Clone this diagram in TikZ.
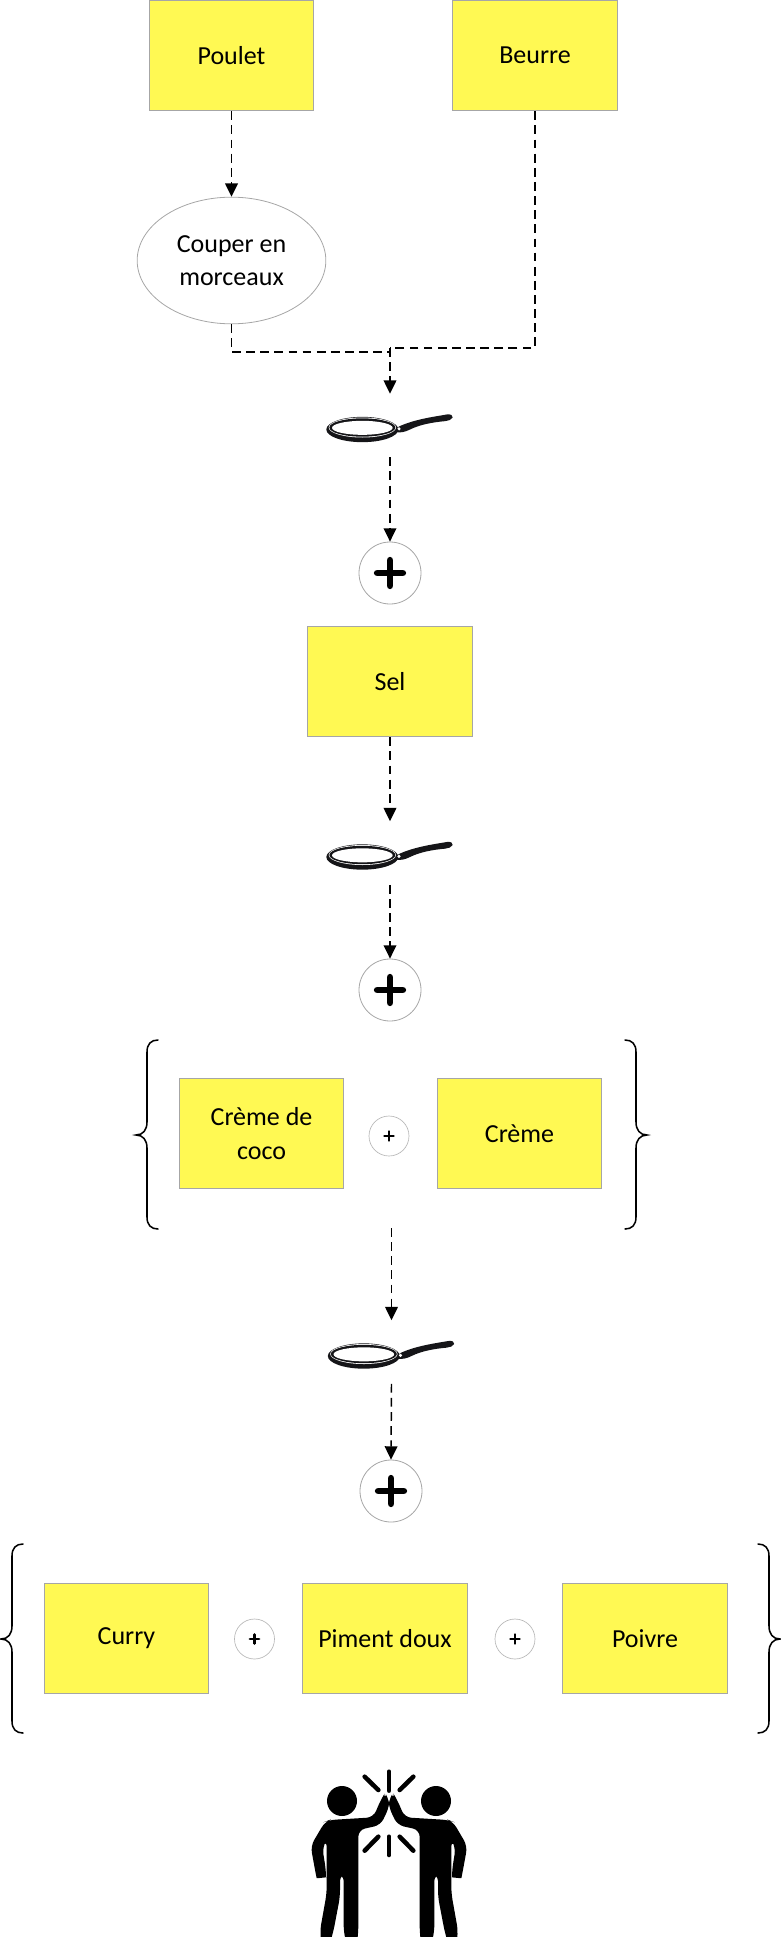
\documentclass[tikz,border=0pt]{standalone}
\usepackage{fontspec}
\setmainfont{Carlito}
\usetikzlibrary{arrows.meta,calc,shapes.geometric}
\definecolor{boxyellow}{HTML}{FFF953}
\definecolor{edgegray}{HTML}{A6A6A6}
\definecolor{pandark}{HTML}{151518}
\tikzset{
  ingredient/.style={rectangle,draw=edgegray,line width=0.75pt,fill=boxyellow,minimum width=123.5pt,minimum height=83pt,inner sep=0pt,align=center,font=\fontsize{19.5}{25}\selectfont,text=black},
  action/.style={ellipse,draw=edgegray,line width=0.6pt,fill=white,minimum width=141.5pt,minimum height=95pt,inner sep=0pt,align=center,font=\fontsize{19.5}{25}\selectfont},
  bigplus/.style={circle,draw=edgegray,line width=0.6pt,fill=white,minimum size=46.5pt,inner sep=0pt},
  smallplus/.style={circle,draw=edgegray!80,line width=0.5pt,fill=white,minimum size=30pt,inner sep=0pt},
  panslot/.style={rectangle,minimum width=94.5pt,minimum height=47.25pt,inner sep=0pt},
  flow/.style={line width=1.1pt,dash pattern=on 6.6pt off 4pt,-{Triangle[length=10pt,width=9.5pt]}},
  flowplain/.style={line width=1.1pt,dash pattern=on 6.6pt off 4pt},
  bracket/.style={line width=1.15pt,line cap=round},
  spark/.style={line width=3.4pt,line cap=round},
  pan/.pic={
    \begin{scope}[x=0.25pt,y=-0.25pt,shift={(-270,-258)}]
      \fill[pandark] (295,262) .. controls (340,240) and (400,232) .. (440,225)
        .. controls (452,223) and (460,228) .. (458,234)
        .. controls (455,241) and (445,244) .. (435,245)
        .. controls (400,248) and (360,255) .. (330,270)
        .. controls (315,278) and (300,280) .. (290,278) -- cycle;
      \fill[pandark] (187,270) ellipse [x radius=108,y radius=38];
      \fill[white] (187,264) ellipse [x radius=101,y radius=30];
      \fill[pandark] (187,264) ellipse [x radius=99,y radius=27.5];
      \fill[white] (187,265) ellipse [x radius=91,y radius=21];
      \fill[white] (297,268) circle [radius=5];
    \end{scope}
  },
  plusbig/.pic={
    \draw[line width=5.2pt,line cap=round] (-9.5pt,0) -- (9.5pt,0) (0,-9.5pt) -- (0,9.5pt);
  },
  plussmall/.pic={
    \draw[line width=2pt,line cap=round] (-3.4pt,0) -- (3.4pt,0) (0,-3.4pt) -- (0,3.4pt);
  },
}
\begin{document}
\begin{tikzpicture}[x=0.75pt,y=-0.75pt]
\useasboundingbox (0,0) rectangle (781,1937);
\node[ingredient] (poulet) at (231.5,55.5) {Poulet};
\node[ingredient] (beurre) at (535,55.5) {Beurre};
\node[action] (couper) at (231.5,260.5) {Couper en\\morceaux};
\node[panslot] (panA) at (390,425.5) {};
\pic at (panA.center) {pan};
\node[bigplus] (plusA) at (390,573) {};
\pic at (plusA.center) {plusbig};
\node[ingredient] (sel) at (390,681.5) {Sel};
\node[panslot] (panB) at (390,853) {};
\pic at (panB.center) {pan};
\node[bigplus] (plusB) at (390,990) {};
\pic at (plusB.center) {plusbig};
\node[ingredient] (cocco) at (261.5,1133.5) {Crème de\\coco};
\node[smallplus] (plusC) at (389,1136) {};
\pic at (plusC.center) {plussmall};
\node[ingredient] (creme) at (519.5,1133.5) {Crème};
\node[panslot] (panC) at (391.5,1352) {};
\pic at (panC.center) {pan};
\node[bigplus] (plusD) at (391,1491) {};
\pic at (plusD.center) {plusbig};
\node[ingredient] (curry) at (126.5,1638.5) {Curry};
\node[smallplus] (plusE) at (254.5,1639) {};
\pic at (plusE.center) {plussmall};
\node[ingredient] (piment) at (385,1638.5) {Piment doux};
\node[smallplus] (plusF) at (515,1639) {};
\pic at (plusF.center) {plussmall};
\node[ingredient] (poivre) at (645,1638.5) {Poivre};
\coordinate (meetA) at (390,352);
\coordinate (meetB) at (390,348);
\coordinate (groupA) at (391.5,1228);
\draw[flow] (poulet.south) -- (couper.north);
\draw[flowplain] (couper.south) |- (meetA);
\draw[flowplain] (beurre.south) |- (meetB);
\draw[flow] (meetB) -- (panA.north);
\draw[flow] (panA.south) -- (plusA.north);
\draw[flow] (sel.south) -- (panB.north);
\draw[flow] (panB.south) -- (plusB.north);
\draw[flow] (groupA) -- (panC.north);
\draw[flow] (panC.south) -- (plusD.north);
\draw[bracket] (158,1040) .. controls (151,1040) and (147,1044) .. (147,1052) -- (147,1122)
  .. controls (147,1130) and (143,1135) .. (136,1135)
  .. controls (143,1135) and (147,1140) .. (147,1148) -- (147,1217)
  .. controls (147,1225) and (151,1229) .. (158,1229);
\draw[bracket] (625,1040) .. controls (632,1040) and (636,1044) .. (636,1052) -- (636,1122)
  .. controls (636,1130) and (640,1135) .. (647,1135)
  .. controls (640,1135) and (636,1140) .. (636,1148) -- (636,1217)
  .. controls (636,1225) and (632,1229) .. (625,1229);
\draw[bracket] (23,1544) .. controls (16,1544) and (12,1548) .. (12,1556) -- (12,1626)
  .. controls (12,1634) and (8,1639) .. (1,1639)
  .. controls (8,1639) and (12,1644) .. (12,1652) -- (12,1721)
  .. controls (12,1729) and (16,1733) .. (23,1733);
\draw[bracket] (758,1544) .. controls (765,1544) and (769,1548) .. (769,1556) -- (769,1626)
  .. controls (769,1634) and (773,1639) .. (780,1639)
  .. controls (773,1639) and (769,1644) .. (769,1652) -- (769,1721)
  .. controls (769,1729) and (765,1733) .. (758,1733);
\begin{scope}[x=0.25pt,y=-0.25pt,shift={(870,5220)}]
  \foreach \m in {1,-1}{
    \begin{scope}[shift={(297,0)},xscale=\m,shift={(-297,0)}]
      \fill (156,183) circle [radius=45];
      \fill[rounded corners=5pt] (118,240) -- (250,232) -- (273,178)
        .. controls (278,170) and (292,170) .. (298,180) -- (298,200)
        -- (272,255) -- (205,270) -- (205,575)
        .. controls (203,592) and (165,592) .. (161,575) -- (161,403) -- (150,403) -- (150,470) -- (130,575)
        .. controls (125,592) and (92,592) .. (90,572) -- (110,460) -- (110,390)
        -- (110,300) -- (97,322) -- (108,392)
        .. controls (108,412) and (80,415) .. (76,395) -- (62,318) -- (105,245) -- cycle;
      \draw[spark] (224,110) -- (265,150);
      \draw[spark] (265,290) -- (224,332);
    \end{scope}
  }
  \draw[spark] (297,95) -- (297,152);
  \draw[spark] (297,290) -- (297,345);
\end{scope}
\end{tikzpicture}
\end{document}
